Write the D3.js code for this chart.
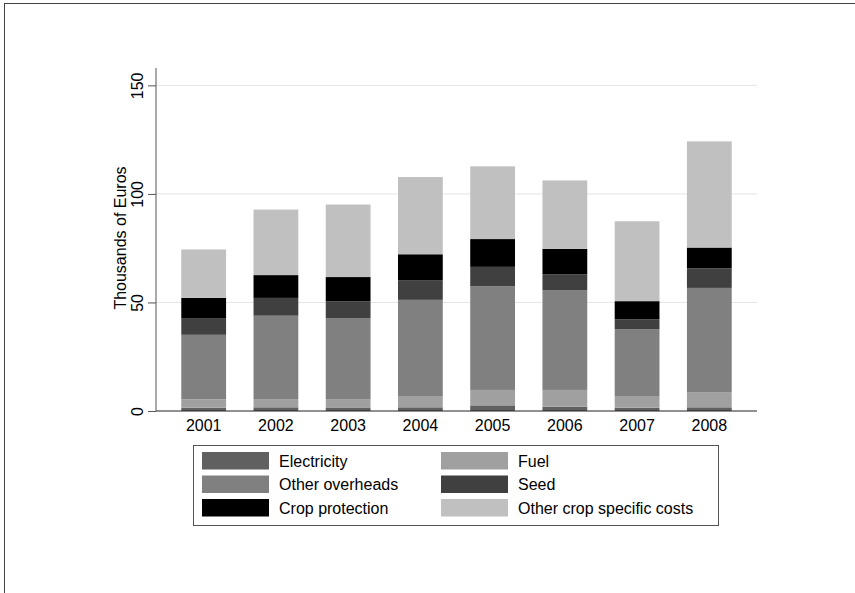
<!DOCTYPE html>
<meta charset="utf-8">
<style>
body { margin: 0; background: #fff; }
svg { font-family: "Liberation Sans", Arial, Helvetica, sans-serif; }
.grid line { stroke: #e5e5e5; stroke-width: 1; }
</style>
<body>
<script src="https://cdn.jsdelivr.net/npm/d3@7"></script>
<script>

var years = ["2001", "2002", "2003", "2004", "2005", "2006", "2007", "2008"];
var seriesNames = ["Electricity", "Fuel", "Other overheads", "Seed", "Crop protection", "Other crop specific costs"];
var seriesColors = ["#606060", "#a0a0a0", "#808080", "#404040", "#000000", "#c0c0c0"];

var electricity = [1.5, 1.7, 1.4, 1.7, 2.6, 2.0, 1.5, 1.7];
var fuel = [3.9, 3.8, 4.1, 4.9, 7.1, 7.7, 5.1, 7.0];
var otherOverheads = [29.7, 38.4, 37.3, 44.6, 47.8, 46.0, 31.0, 48.0];
var seed = [7.7, 8.2, 7.7, 8.9, 8.9, 7.3, 4.6, 9.0];
var cropProtection = [9.3, 10.5, 11.2, 12.1, 12.8, 11.7, 8.4, 9.6];
var otherCropCosts = [22.3, 30.2, 33.4, 35.6, 33.5, 31.5, 36.8, 48.9];

var yTicks = [0, 50, 100, 150];

var allSeries = [electricity, fuel, otherOverheads, seed, cropProtection, otherCropCosts];

var width = 855, height = 593;

var svg = d3.select("body").append("svg")
  .attr("width", width)
  .attr("height", height);

// outer frame (left and top edges visible)
svg.append("rect")
  .attr("x", 4.5).attr("y", 3.5)
  .attr("width", 900).attr("height", 700)
  .attr("fill", "none")
  .attr("stroke", "#444");

var x = d3.scaleBand()
  .domain(years)
  .range([156, 757])
  .paddingInner(0.38)
  .paddingOuter(0.35);

var y = d3.scaleLinear()
  .domain([0, 158])
  .range([411, 68]);

// table for the stack
var table = years.map(function(yr, i) {
  var row = { year: yr };
  seriesNames.forEach(function(s, j) { row[s] = allSeries[j][i]; });
  return row;
});

var stacked = d3.stack().keys(seriesNames)(table);

// gridlines
svg.append("g")
  .attr("class", "grid")
  .selectAll("line")
  .data(yTicks.filter(function(d) { return d > 0; }))
  .enter().append("line")
  .attr("x1", 156).attr("x2", 757)
  .attr("y1", function(d) { return y(d); })
  .attr("y2", function(d) { return y(d); });

// bars
svg.append("g")
  .selectAll("g")
  .data(stacked)
  .enter().append("g")
    .attr("fill", function(d, i) { return seriesColors[i]; })
  .selectAll("rect")
  .data(function(d) { return d; })
  .enter().append("rect")
    .attr("x", function(d) { return x(d.data.year); })
    .attr("y", function(d) { return y(d[1]); })
    .attr("width", x.bandwidth())
    .attr("height", function(d) { return y(d[0]) - y(d[1]); });

// y axis
var yAxis = d3.axisLeft(y)
  .tickValues(yTicks)
  .tickSize(8)
  .tickPadding(5);

var gy = svg.append("g")
  .attr("transform", "translate(156,0)")
  .call(yAxis);
gy.select(".domain").remove();
gy.append("line")
  .attr("x1", 0).attr("x2", 0)
  .attr("y1", 68).attr("y2", 411)
  .attr("stroke", "#555");
gy.selectAll(".tick line").attr("stroke", "#555");
gy.selectAll(".tick text")
  .attr("font-size", 16)
  .attr("fill", "#000")
  .attr("text-anchor", "middle")
  .attr("x", 0).attr("dy", 0)
  .attr("transform", "translate(-13,0) rotate(-90)");

// x axis
var xAxis = d3.axisBottom(x).tickSize(0).tickPadding(9);
var gx = svg.append("g")
  .attr("transform", "translate(0,411)")
  .call(xAxis);
gx.select(".domain").remove();
gx.append("line")
  .attr("x1", 156).attr("x2", 757)
  .attr("stroke", "#222");
gx.selectAll(".tick text")
  .attr("font-size", 16)
  .attr("fill", "#000")
  .attr("font-family", "inherit");

svg.append("text")
  .attr("transform", "translate(126,238) rotate(-90)")
  .attr("text-anchor", "middle")
  .attr("font-size", 16)
  .text("Thousands of Euros");

// legend
var legend = svg.append("g");
legend.append("rect")
  .attr("x", 193.5).attr("y", 445.5)
  .attr("width", 525).attr("height", 80)
  .attr("fill", "#fff")
  .attr("stroke", "#555");

var items = legend.selectAll("g.item")
  .data(seriesNames)
  .enter().append("g")
  .attr("class", "item")
  .attr("transform", function(d, i) {
    var col = i % 2, row = Math.floor(i / 2);
    return "translate(" + (col === 0 ? 202 : 441) + "," + (452 + row * 23.5) + ")";
  });

items.append("rect")
  .attr("width", 67).attr("height", 17.5)
  .attr("fill", function(d, i) { return seriesColors[i]; });

items.append("text")
  .attr("x", 77).attr("y", 14.5)
  .attr("font-size", 16)
  .text(function(d) { return d; });

</script>
</body>
